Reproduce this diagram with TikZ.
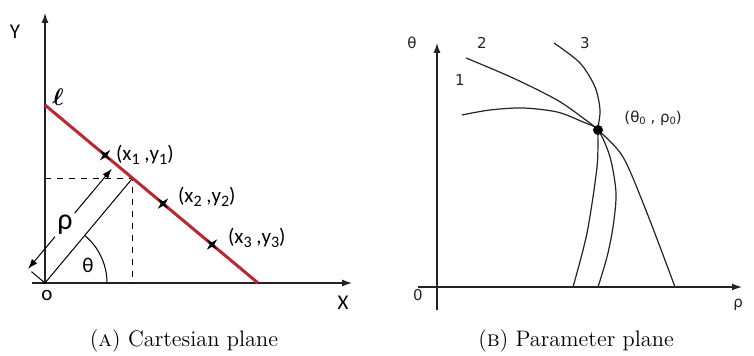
\documentclass[tikz,border=0pt]{standalone}
\usepackage{fontspec}
\newfontfamily\lblfont{Carlito}
\newfontfamily\dvfont{DejaVu Sans}
\usetikzlibrary{arrows.meta,calc,positioning,shapes.geometric}
\definecolor{linered}{RGB}{192,38,48}
\definecolor{axisgray}{RGB}{35,35,35}
\newcommand{\lsub}[1]{\raisebox{-0.4ex}{\fontsize{8}{9}\selectfont #1}}
\newcommand{\psub}[1]{\raisebox{-0.3ex}{\fontsize{5}{6}\selectfont #1}}
\tikzset{
  axis/.style={draw=axisgray, line width=0.6pt, -{Latex[length=5pt,width=3.5pt]}},
  ptmark/.style={star, star points=4, star point ratio=0.3, fill=black, inner sep=0pt, minimum size=2.2pt},
  lbl/.style={font=\lblfont\fontsize{10.5}{12}\selectfont, inner sep=1pt},
  plbl/.style={font=\dvfont\fontsize{7.5}{9}\selectfont, text=axisgray, inner sep=1pt},
  caption/.style={font=\fontsize{11.2}{13}\selectfont},
  curve/.style={draw=axisgray, line width=0.6pt},
}
\begin{document}
\begin{tikzpicture}[x=0.5pt,y=0.5pt]
\useasboundingbox (0,0) rectangle (754,356);

% cartesian plane
\coordinate (O) at (45,73);
\coordinate (A) at (45,251);
\coordinate (B) at (258,73);
\coordinate (F) at ($(A)!(O)!(B)$);
\draw[axis] (32,73) -- (352,73);
\draw[axis] (O) -- (45,343);
\node[lbl] (ylab) at (15,324) {Y};
\node[lbl] (xlab) at (343,53) {X};
\node[lbl] (olab) at (47,61) {o};
\draw[dashed, line width=0.5pt] (O |- F) -- (F) -- (F |- O);
\draw[line width=0.5pt] (O) -- (F);
\draw[linered, line width=1.5pt] (A) -- (B);
\node[font=\fontsize{13}{14}\selectfont\boldmath] (ell) at (58,259) {$\ell$};

\coordinate (R1) at ($(O)!11pt!90:(F)$);
\coordinate (R2) at ($(F)!11pt!-90:(O)$);
\draw[line width=0.5pt, {Latex[length=5pt,width=3.5pt]}-{Latex[length=5pt,width=3.5pt]}, shorten >=3pt]
  (R1) -- node[pos=0.42, fill=white, lbl, font=\lblfont\fontsize{15}{16}\selectfont] (rholab) {ρ} (R2);
\draw[line width=0.5pt] (O) -- ($(O)!0.8!(R1)$);
\draw[line width=0.5pt] (O) ++(62,0) arc[start angle=0, end angle=50.1, radius=62];
\node[lbl] (thlab) at (88,91) {θ};

\node[ptmark] (s1) at ($(A)!0.282!(B)$) {};
\node[ptmark] (s2) at ($(A)!0.554!(B)$) {};
\node[ptmark] (s3) at ($(A)!0.784!(B)$) {};
\node[lbl, right=3pt of s1] (p1) {(x\lsub{1} ,y\lsub{1})};
\node[lbl, right=5pt of s2, yshift=3.5pt] (p2) {(x\lsub{2} ,y\lsub{2})};
\node[lbl, right=5.5pt of s3, yshift=3.5pt] (p3) {(x\lsub{3} ,y\lsub{3})};

% parameter plane
\draw[axis] (437,46) -- (437,313);
\draw[axis] (418,69) -- (742,69);
\node[plbl] (thax) at (412,313) {θ};
\node[plbl] (zero) at (418,61) {0};
\node[plbl] (rhoax) at (738,51) {ρ};
\coordinate (P) at (598,226);
\draw[curve] plot[smooth] coordinates {(462,241) (490,246) (523,248) (557,244) (583,234) (P) (610,199) (616,163) (613,129) (607,99) (598,69)};
\draw[curve] plot[smooth] coordinates {(466,298) (513,278) (557,256) (583,238) (P) (623,199) (647,143) (675,69)};
\draw[curve] plot[smooth] coordinates {(554,313) (580,293) (595,269) (600,246) (P) (597,189) (587,123) (573,69)};
\fill (P) circle (5);
\node[plbl, anchor=west] (plab) at (622,238) {(θ\psub{0} , ρ\psub{0})};
\node[plbl] (c1) at (460,276) {1};
\node[plbl] (c2) at (482,313) {2};
\node[plbl] (c3) at (585,313) {3};

\node[caption] (capA) at (184,15) {(\textsc{a}) Cartesian plane};
\node[caption] (capB) at (576,15) {(\textsc{b}) Parameter plane};
\end{tikzpicture}
\end{document}
